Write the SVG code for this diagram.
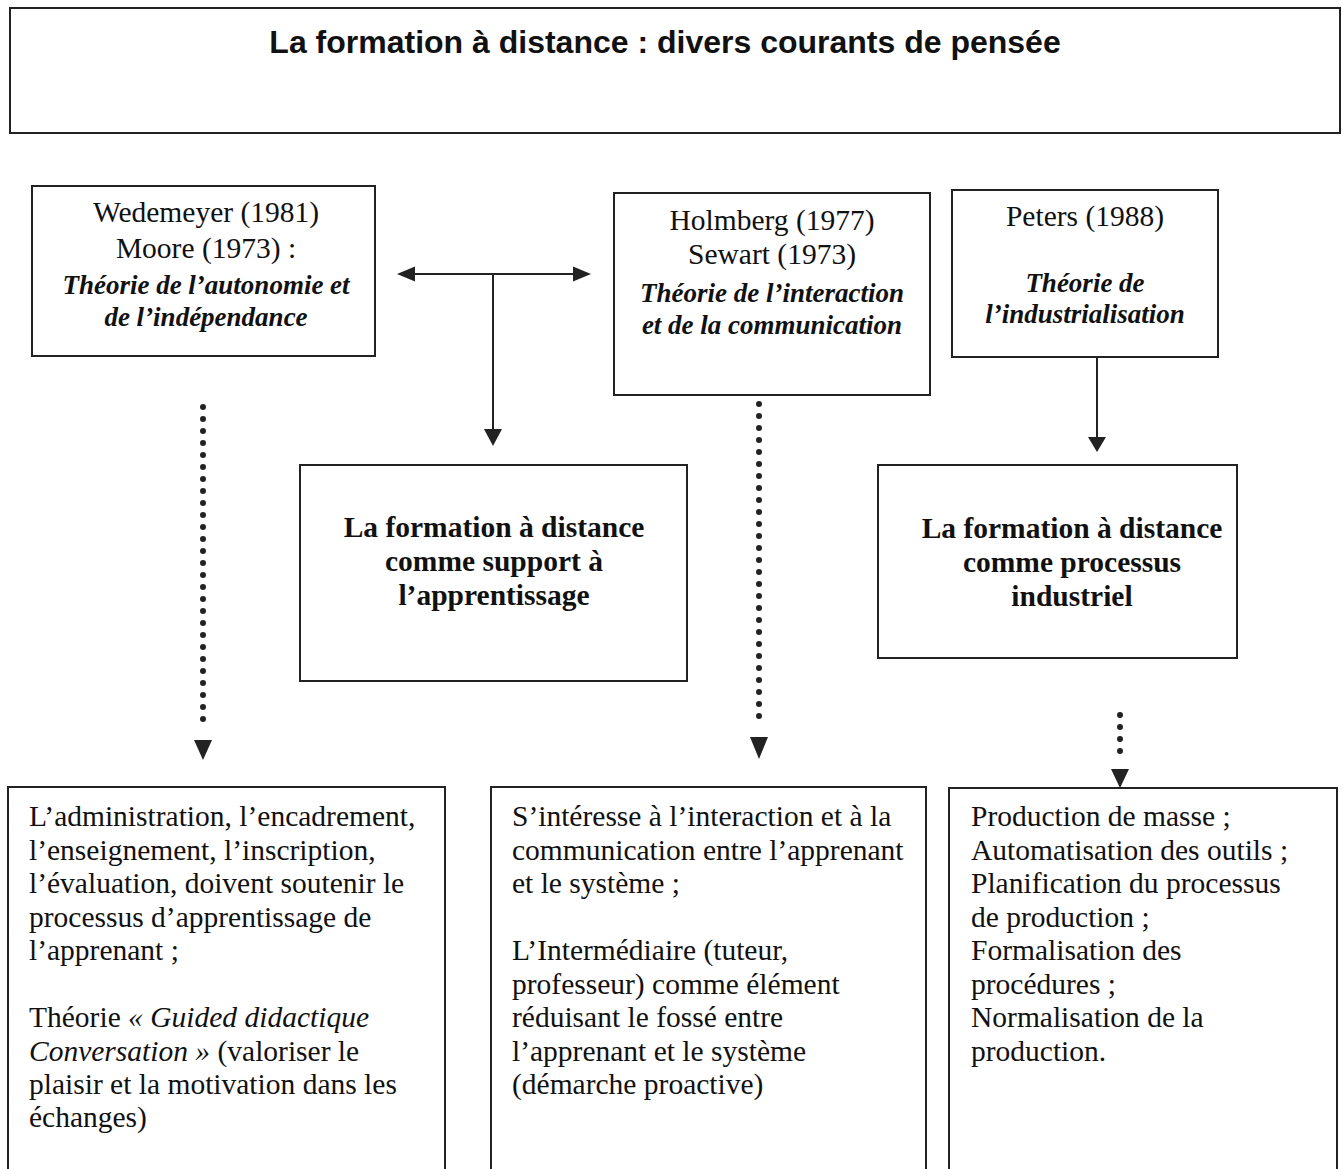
<svg xmlns="http://www.w3.org/2000/svg" width="1343" height="1169" viewBox="0 0 1343 1169">
<style>
.box{fill:#fff;stroke:#222;stroke-width:2}
.t{font-family:"Liberation Serif","Times New Roman",serif;font-size:29.5px;fill:#111}
.c{text-anchor:middle}
.bi{font-weight:bold;font-style:italic;font-size:27px}
.b{font-weight:bold}
.i{font-style:italic}
.title{font-family:"Liberation Sans",Arial,sans-serif;font-weight:bold;font-size:32px;text-anchor:middle;fill:#111}
.ln{stroke:#222;stroke-width:2;fill:none}
.dot{stroke:#222;stroke-width:6;stroke-linecap:round;stroke-dasharray:0 12;fill:none}
.head{fill:#222}
</style>
<rect width="1343" height="1169" fill="#fff"/>
<g id="title">
<rect class="box" x="10" y="8" width="1330" height="125"/>
<text class="title" x="665" y="53">La formation à distance : divers courants de pensée</text>
</g>
<g id="wedemeyer">
<rect class="box" x="32" y="186" width="343" height="170"/>
<text class="t c" x="206" y="222">Wedemeyer (1981)</text>
<text class="t c" x="206" y="258">Moore (1973) :</text>
<text class="t c bi" x="206" y="294">Théorie de l’autonomie et</text>
<text class="t c bi" x="206" y="326">de l’indépendance</text>
</g>
<g id="holmberg">
<rect class="box" x="614" y="193" width="316" height="202"/>
<text class="t c" x="772" y="230">Holmberg (1977)</text>
<text class="t c" x="772" y="264">Sewart (1973)</text>
<text class="t c bi" x="772" y="302">Théorie de l’interaction</text>
<text class="t c bi" x="772" y="334">et de la communication</text>
</g>
<g id="peters">
<rect class="box" x="952" y="190" width="266" height="167"/>
<text class="t c" x="1085" y="226">Peters (1988)</text>
<text class="t c bi" x="1085" y="292">Théorie de</text>
<text class="t c bi" x="1085" y="323">l’industrialisation</text>
</g>
<g id="support">
<rect class="box" x="300" y="465" width="387" height="216"/>
<text class="t c b" x="494" y="537">La formation à distance</text>
<text class="t c b" x="494" y="571">comme support à</text>
<text class="t c b" x="494" y="605">l’apprentissage</text>
</g>
<g id="processus">
<rect class="box" x="878" y="465" width="359" height="193"/>
<text class="t c b" x="1072" y="538">La formation à distance</text>
<text class="t c b" x="1072" y="572">comme processus</text>
<text class="t c b" x="1072" y="606">industriel</text>
</g>
<g id="autonomie-detail">
<rect class="box" x="8" y="787" width="437" height="392"/>
<text class="t" x="29" y="826">L’administration, l’encadrement,</text>
<text class="t" x="29" y="860">l’enseignement, l’inscription,</text>
<text class="t" x="29" y="893">l’évaluation, doivent soutenir le</text>
<text class="t" x="29" y="927">processus d’apprentissage de</text>
<text class="t" x="29" y="960">l’apprenant ;</text>
<text class="t" x="29" y="1027">Théorie <tspan class="i">« Guided didactique</tspan></text>
<text class="t" x="29" y="1061"><tspan class="i">Conversation »</tspan> (valoriser le</text>
<text class="t" x="29" y="1094">plaisir et la motivation dans les</text>
<text class="t" x="29" y="1127">échanges)</text>
</g>
<g id="interaction-detail">
<rect class="box" x="491" y="787" width="435" height="392"/>
<text class="t" x="512" y="826">S’intéresse à l’interaction et à la</text>
<text class="t" x="512" y="860">communication entre l’apprenant</text>
<text class="t" x="512" y="893">et le système ;</text>
<text class="t" x="512" y="960">L’Intermédiaire (tuteur,</text>
<text class="t" x="512" y="994">professeur) comme élément</text>
<text class="t" x="512" y="1027">réduisant le fossé entre</text>
<text class="t" x="512" y="1061">l’apprenant et le système</text>
<text class="t" x="512" y="1094">(démarche proactive)</text>
</g>
<g id="industriel-detail">
<rect class="box" x="949" y="788" width="388" height="391"/>
<text class="t" x="971" y="826">Production de masse ;</text>
<text class="t" x="971" y="860">Automatisation des outils ;</text>
<text class="t" x="971" y="893">Planification du processus</text>
<text class="t" x="971" y="927">de production ;</text>
<text class="t" x="971" y="960">Formalisation des</text>
<text class="t" x="971" y="994">procédures ;</text>
<text class="t" x="971" y="1027">Normalisation de la</text>
<text class="t" x="971" y="1061">production.</text>
</g>
<g id="connectors">
<line class="ln" x1="412" y1="274" x2="576" y2="274"/>
<path class="head" d="M397,274 L415,266.5 L415,281.5 z"/>
<path class="head" d="M591,274 L573,266.5 L573,281.5 z"/>
<line class="ln" x1="493" y1="274" x2="493" y2="432"/>
<path class="head" d="M493,446 L484,429 L502,429 z"/>
<line class="ln" x1="1097" y1="357" x2="1097" y2="440"/>
<path class="head" d="M1097,452 L1088,437 L1106,437 z"/>
<line class="dot" x1="203" y1="407" x2="203" y2="731"/>
<path class="head" d="M194,740 L212,740 L203,760 z"/>
<line class="dot" x1="759" y1="404" x2="759" y2="728"/>
<path class="head" d="M750,737 L768,737 L759,759 z"/>
<line class="dot" x1="1120" y1="715" x2="1120" y2="763"/>
<path class="head" d="M1111,769 L1129,769 L1120,788 z"/>
</g>
</svg>
